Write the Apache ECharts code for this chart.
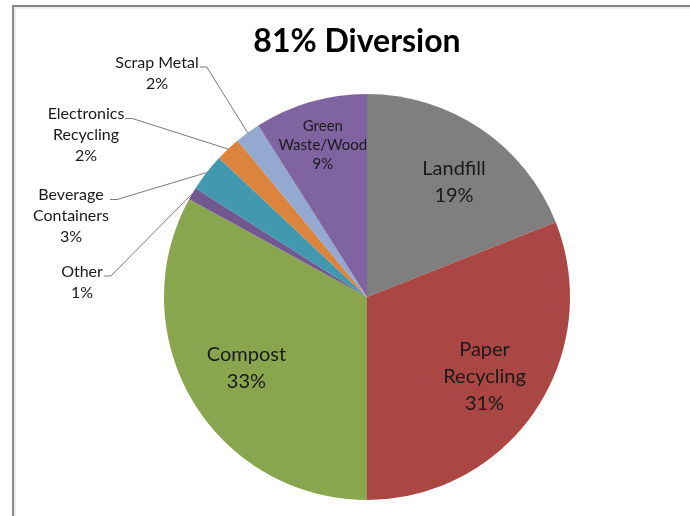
<!DOCTYPE html>
<html>
<head>
<meta charset="utf-8">
<script src="https://cdn.jsdelivr.net/npm/echarts@6/dist/echarts.min.js"></script>
<style>
  html, body { margin: 0; padding: 0; background: #ffffff; }
  #chart { width: 690px; height: 516px; }
</style>
</head>
<body>
<div id="chart"></div>
<script>
// Waste stream breakdown (percent of total), clockwise from 12 o'clock
const categories = [
  'Landfill', 'Paper Recycling', 'Compost', 'Other',
  'Beverage Containers', 'Electronics Recycling', 'Scrap Metal', 'Green Waste/Wood'
];
const shares = [19, 31, 33, 1, 3, 2, 2, 9];
const sliceColors = [
  '#7f7f7f', '#aa4643', '#89a54e', '#71588f',
  '#4198af', '#db843d', '#93a9cf', '#8064a2'
];
const titleText = '81% Diversion';

// How each category name is broken over lines in its label
const labelWrap = {
  'Paper Recycling': ['Paper', 'Recycling'],
  'Beverage Containers': ['Beverage', 'Containers'],
  'Electronics Recycling': ['Electronics', 'Recycling'],
  'Green Waste/Wood': ['Green', 'Waste/Wood']
};

// Pie geometry
const CX = 367, CY = 297, R = 203;
const FONT = 'Lato, "Noto Sans", sans-serif';

// Labels drawn inside their slices: distance from centre as a fraction of radius,
// plus a small nudge in pixels
const insideLabels = {
  'Landfill': { ratio: 0.71, size: 20, lh: 27, nudge: [6, 4] },
  'Paper Recycling': { ratio: 0.70, size: 20, lh: 27, nudge: [0, 0] },
  'Compost': { ratio: 0.69, size: 20, lh: 27, nudge: [0, 0] },
  'Green Waste/Wood': { ratio: 0.78, size: 15, lh: 19, nudge: [0, 0] }
};
// Labels set out to the left with leader lines (label centre)
const outsideLabels = {
  'Scrap Metal': [157, 73],
  'Electronics Recycling': [86, 135],
  'Beverage Containers': [71, 216],
  'Other': [82, 282]
};

const data = categories.map(function (name, i) {
  const inner = insideLabels[name];
  return {
    name: name,
    value: shares[i],
    itemStyle: { color: sliceColors[i] },
    label: inner
      ? { position: 'inside', fontSize: inner.size, lineHeight: inner.lh }
      : { position: 'outside', fontSize: 16, lineHeight: 21 },
    labelLine: { show: !inner }
  };
});

const chart = echarts.init(document.getElementById('chart'), null, { renderer: 'canvas' });
chart.setOption({
  animation: false,
  backgroundColor: '#ffffff',
  graphic: [
    {
      type: 'rect',
      shape: { x: 15, y: 8, width: 700, height: 540 },
      style: { fill: 'none', stroke: '#d9d9d9', lineWidth: 1 },
      silent: true
    },
    {
      type: 'rect',
      shape: { x: 13, y: 6, width: 700, height: 540 },
      style: { fill: 'none', stroke: '#868686', lineWidth: 2 },
      silent: true
    },
    {
      type: 'text',
      x: 357, y: 42,
      style: {
        text: titleText,
        align: 'center', verticalAlign: 'middle',
        font: 'bold 32px ' + FONT,
        fill: '#000000'
      },
      silent: true
    }
  ],
  series: [{
    type: 'pie',
    center: [CX, CY],
    radius: R,
    startAngle: 90,
    clockwise: true,
    avoidLabelOverlap: false,
    silent: true,
    emphasis: { disabled: true },
    itemStyle: { borderWidth: 0 },
    label: {
      show: true,
      color: '#1a1a1a',
      fontFamily: FONT,
      align: 'center',
      formatter: function (p) {
        const lines = (labelWrap[p.name] || [p.name]).slice();
        lines.push(Math.round(p.percent) + '%');
        return lines.join('\n');
      }
    },
    labelLine: {
      length: 10,
      length2: 8,
      lineStyle: { color: '#7a7a7a', width: 1 }
    },
    labelLayout: function (p) {
      const name = categories[p.dataIndex];
      const rect = p.labelRect;
      const inner = insideLabels[name];
      if (inner) {
        const lx = rect.x + rect.width / 2;
        const ly = rect.y + rect.height / 2;
        const dx = lx - CX, dy = ly - CY;
        const d = Math.hypot(dx, dy) || 1;
        return {
          x: CX + dx / d * inner.ratio * R + inner.nudge[0],
          y: CY + dy / d * inner.ratio * R + inner.nudge[1]
        };
      }
      const pos = outsideLabels[name];
      if (pos) {
        const right = pos[0] + rect.width / 2;
        const lineY = pos[1] - rect.height / 2 + 15;
        const out = { x: pos[0], y: pos[1], align: 'center', verticalAlign: 'middle' };
        if (p.labelLinePoints && p.labelLinePoints.length) {
          out.labelLinePoints = [
            p.labelLinePoints[0].slice(),
            [right + 8, lineY],
            [right + 1, lineY]
          ];
        }
        return out;
      }
    },
    data: data
  }]
});
</script>
</body>
</html>
